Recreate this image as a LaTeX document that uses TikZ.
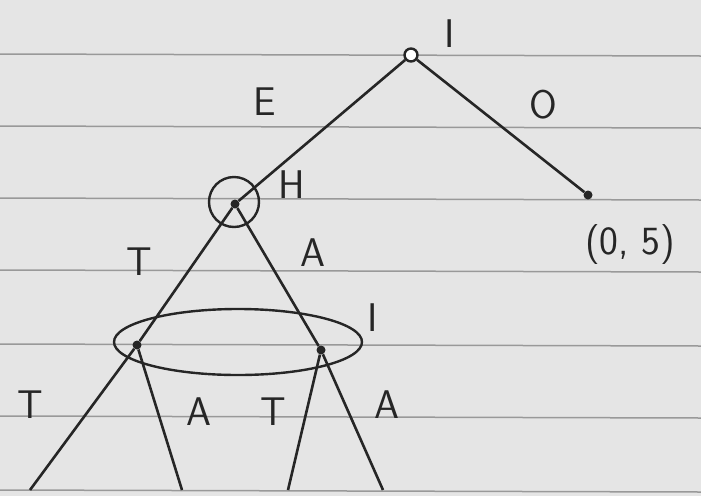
\documentclass[tikz,border=0pt]{standalone}
\usepackage{tikz}
\usetikzlibrary{calc, positioning}

\begin{document}
\begin{tikzpicture}[x=1pt, y=-1pt,
  branch/.style={draw=black!85, line width=2.6pt},
  decnode/.style={circle, draw=black!85, line width=2.4pt, fill=white, inner sep=0pt, minimum size=13pt},
  dotnode/.style={circle, fill=black!85, inner sep=0pt, minimum size=9pt},
  hand/.style={font=\sffamily\fontsize{40}{42}\selectfont, text=black!85},
]
% paper
\fill[black!10] (0,0) rectangle (701,496);
\useasboundingbox (0,0) rectangle (701,496);
\foreach \y in {54,126,198,270,344,416,490}
  \draw[black!40, line width=1.5pt] (0,\y) -- (701,\y+2);

% nodes
\node[decnode] (root) at (411,55) {};
\node[dotnode] (leafO) at (588,195) {};
\node[dotnode] (hnode) at (235,204) {};
\node[circle, draw=black!85, line width=2.4pt, minimum size=50pt, inner sep=0pt] (hring) at (234,202) {};
\node[dotnode] (iL) at (137,345) {};
\node[dotnode] (iR) at (321,350) {};
\coordinate (l1) at (30,490);
\coordinate (l2) at (182,490);
\coordinate (l3) at (288,490);
\coordinate (l4) at (383,490);

% branches
\draw[branch] (root) -- (hnode);
\draw[branch] (root) -- (leafO);
\draw[branch] (hnode) -- (iL);
\draw[branch] (hnode) -- (iR);
\draw[branch] (iL) -- (l1);
\draw[branch] (iL) -- (l2);
\draw[branch] (iR) -- (l3);
\draw[branch] (iR) -- (l4);

% information set
\draw[black!85, line width=2.4pt] (238,342) ellipse [x radius=124pt, y radius=33pt];

% labels
\node[hand] (lroot) at (450,34) {I};
\node[hand] (lE) at (265,102) {E};
\node[hand] (lO) at (543,105) {O};
\node[hand] (lH) at (292,185) {H};
\node[hand] (lpay) at (630,245) {(0, 5)};
\node[hand] (lT1) at (139,262) {T};
\node[hand] (lA1) at (313,253) {A};
\node[hand] (lI) at (373,318) {I};
\node[hand] (lT2) at (30,405) {T};
\node[hand] (lA2) at (199,412) {A};
\node[hand] (lT3) at (273,412) {T};
\node[hand] (lA3) at (387,405) {A};
\end{tikzpicture}
\end{document}
